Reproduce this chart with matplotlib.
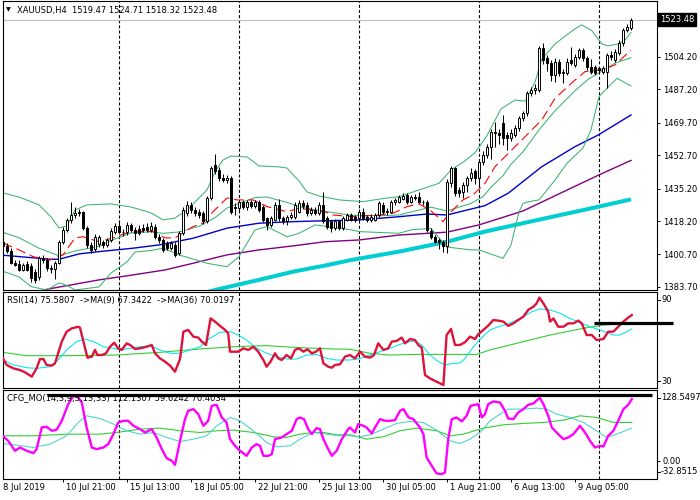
import matplotlib
matplotlib.use("Agg")
import matplotlib.pyplot as plt
import matplotlib.transforms as mtransforms

plt.rcParams['font.family'] = ['DejaVu Sans']
plt.rcParams['lines.scale_dashes'] = False

# ---------------- price data (H4 bars, index 0..158) ----------------
opens = [1409.0,1407.5,1405.0,1402.5,1396.2,1395.8,1392.7,1395.8,1394.5,1391.5,
         1389.0,1398.8,1398.0,1393.5,1393.0,1396.2,1407.5,1413.6,1418.8,1421.4,
         1422.3,1423.0,1414.5,1405.7,1403.5,1406.0,1407.5,1405.7,1408.4,1412.7,
         1415.7,1412.7,1412.5,1416.2,1413.6,1414.0,1414.8,1415.3,1413.6,1415.3,
         1410.1,1408.4,1406.6,1404.0,1405.8,1401.4,1411.9,1422.3,1426.7,1424.0,
         1423.0,1422.3,1418.0,1430.2,1447.6,1445.0,1441.0,1439.8,1441.0,1425.8,
         1425.0,1428.4,1425.5,1428.4,1426.0,1428.4,1425.8,1419.7,1416.2,1418.8,
         1426.7,1419.7,1418.0,1420.6,1420.6,1423.2,1427.6,1426.7,1422.3,1424.1,
         1422.3,1426.7,1419.7,1418.0,1414.5,1418.0,1414.5,1418.8,1421.4,1420.6,
         1419.7,1423.2,1420.6,1418.8,1418.8,1421.4,1426.7,1423.2,1423.2,1428.0,
         1428.4,1430.0,1431.9,1428.4,1431.0,1431.0,1428.4,1428.4,1413.2,1410.1,
         1408.4,1407.5,1404.9,1438.0,1445.9,1434.5,1433.7,1437.2,1440.6,1444.2,
         1440.7,1449.4,1452.9,1457.2,1465.1,1464.2,1469.5,1463.4,1461.6,1463.4,
         1466.8,1472.1,1474.7,1485.2,1486.9,1486.9,1508.7,1503.5,1500.9,1494.8,
         1501.7,1496.5,1495.6,1502.6,1500.0,1504.4,1507.9,1503.5,1499.1,1499.1,
         1498.2,1496.5,1496.5,1505.2,1502.6,1506.1,1511.3,1518.3,1519.47]
highs = [1410.5,1409.0,1406.5,1404.0,1398.0,1398.0,1396.5,1397.5,1396.0,1393.0,
         1400.0,1400.5,1399.0,1395.0,1397.5,1408.5,1415.0,1420.0,1428.4,1425.5,
         1424.5,1423.5,1415.5,1407.0,1411.5,1411.0,1408.5,1409.5,1414.5,1417.0,
         1419.0,1414.0,1417.5,1417.0,1415.0,1416.0,1416.5,1417.0,1417.5,1416.5,
         1411.5,1409.5,1408.0,1408.0,1407.0,1413.0,1425.5,1428.5,1428.0,1425.5,
         1424.5,1423.5,1431.5,1447.0,1453.4,1446.5,1443.0,1442.5,1442.0,1427.5,
         1429.5,1429.5,1429.5,1429.5,1429.5,1429.5,1426.5,1420.5,1421.0,1428.0,
         1430.0,1421.0,1421.5,1423.0,1428.0,1429.5,1429.0,1428.0,1425.5,1425.5,
         1428.0,1433.7,1421.0,1419.0,1419.5,1419.0,1421.0,1422.5,1422.5,1421.5,
         1424.5,1425.0,1421.5,1422.0,1422.5,1428.5,1428.0,1425.0,1429.0,1430.5,
         1432.0,1433.0,1433.0,1432.0,1432.5,1433.5,1429.5,1429.0,1414.5,1411.0,
         1409.5,1408.5,1440.0,1447.0,1446.5,1436.0,1438.5,1442.0,1446.0,1445.5,
         1450.5,1455.0,1458.5,1466.5,1470.0,1466.5,1474.0,1465.0,1466.5,1468.5,
         1473.5,1476.0,1486.5,1488.5,1490.0,1510.0,1511.3,1505.0,1502.5,1503.5,
         1503.0,1498.0,1503.5,1509.6,1505.5,1509.0,1509.0,1504.5,1503.0,1500.0,
         1499.0,1499.5,1506.5,1507.5,1508.5,1513.0,1519.5,1521.5,1524.71]
lows = [1406.0,1403.5,1401.5,1395.5,1394.5,1392.0,1392.0,1392.0,1386.5,1386.0,
        1387.5,1396.5,1392.0,1391.0,1388.0,1395.5,1406.0,1412.5,1417.0,1420.0,
        1421.0,1413.5,1404.0,1401.5,1402.5,1404.5,1404.0,1404.5,1407.0,1411.5,
        1411.5,1410.5,1411.0,1412.5,1408.5,1411.0,1412.5,1412.5,1412.5,1409.0,
        1406.5,1402.0,1403.0,1403.0,1399.5,1400.5,1411.0,1421.0,1422.5,1421.0,
        1420.0,1416.5,1417.0,1429.0,1443.0,1439.0,1438.5,1438.0,1422.0,1421.5,
        1423.5,1424.5,1424.0,1425.0,1425.0,1423.0,1417.5,1413.5,1415.0,1418.0,
        1418.5,1416.5,1416.0,1419.5,1419.5,1422.5,1424.5,1421.0,1421.5,1421.5,
        1421.5,1417.0,1414.0,1412.5,1413.5,1413.5,1413.5,1418.0,1418.0,1417.5,
        1418.5,1419.0,1417.5,1417.5,1418.0,1420.5,1422.0,1421.5,1422.5,1426.5,
        1427.5,1429.0,1427.0,1427.5,1429.5,1427.5,1426.5,1412.5,1409.0,1406.5,
        1403.5,1402.0,1401.4,1436.0,1431.5,1431.0,1430.5,1433.5,1439.0,1437.5,
        1436.0,1447.5,1451.5,1450.5,1457.0,1458.5,1458.0,1455.5,1460.0,1462.0,
        1465.5,1470.5,1473.5,1483.5,1485.0,1486.0,1500.5,1497.0,1491.5,1491.3,
        1494.0,1490.4,1494.5,1500.0,1499.0,1503.0,1502.0,1497.5,1495.5,1494.5,
        1496.0,1495.5,1487.8,1502.5,1501.5,1505.0,1510.0,1517.0,1518.32]
closes = [1407.5,1405.0,1402.5,1396.2,1395.3,1392.7,1395.3,1392.7,1388.3,1387.5,
          1398.8,1398.0,1393.5,1393.0,1396.5,1407.5,1413.6,1418.8,1421.4,1422.3,
          1423.0,1414.5,1405.7,1403.1,1410.1,1410.0,1405.5,1408.4,1413.2,1415.7,
          1412.7,1412.5,1416.2,1413.6,1411.9,1411.9,1413.5,1413.6,1415.7,1410.1,
          1408.4,1403.1,1404.0,1406.6,1400.5,1411.9,1424.1,1426.7,1424.0,1422.5,
          1421.5,1418.0,1430.2,1445.9,1444.2,1440.6,1439.8,1441.0,1423.2,1425.0,
          1428.4,1425.8,1428.0,1426.0,1428.4,1424.1,1418.8,1416.2,1419.7,1426.7,
          1419.7,1418.0,1420.6,1421.5,1426.7,1427.6,1426.0,1422.3,1424.1,1422.5,
          1426.7,1418.0,1415.3,1414.5,1418.0,1414.5,1419.7,1421.5,1418.8,1418.8,
          1423.2,1419.7,1418.8,1420.6,1421.4,1427.6,1423.2,1423.5,1428.4,1429.5,
          1431.0,1431.5,1428.4,1431.0,1430.5,1428.4,1428.2,1413.6,1410.1,1407.5,
          1407.5,1404.9,1438.9,1445.9,1432.8,1432.8,1437.2,1440.6,1443.2,1440.7,
          1449.4,1452.8,1457.2,1465.1,1464.2,1463.5,1461.6,1461.6,1464.2,1466.8,
          1472.1,1474.7,1485.2,1486.9,1487.8,1508.7,1502.6,1500.9,1494.8,1501.7,
          1495.6,1495.6,1501.7,1500.9,1504.4,1507.9,1503.5,1499.1,1496.5,1495.6,
          1497.4,1498.2,1505.2,1504.0,1507.0,1511.3,1518.3,1520.1,1523.48]

# ---------------- main-window indicators (bar index, price) ----------------
bb_up_x = [0,5,10,13,15,17,19,22,28,33,38,41,44,47,50,52,54,56,58,62,65,70,72,75,77,80,85,91,96,100,
           105,110,113,116,119,122,125.5,129,131.5,134,135.7,139,144,145.7,148.2,150.7,152.3,154.8,156.5,158]
bb_up_y = [1433.5,1430.8,1426.7,1420.4,1414.6,1415.7,1424.0,1426.7,1427.2,1425.6,1422.5,1418.8,1419.8,1424.0,
           1430.3,1434.5,1444.0,1450.2,1452.3,1451.8,1447.1,1446.6,1446.0,1439.2,1433.5,1431.4,1429.3,1428.4,
           1430.0,1431.0,1434.5,1438.0,1445.0,1449.0,1454.0,1463.0,1477.0,1481.6,1481.0,1491.0,1503.0,1511.0,
           1519.0,1521.0,1518.0,1511.0,1510.0,1511.0,1513.0,1517.0]
bb_mid_x = [0,5,10,15,19,25,28,33,38,41,45,50,54,57,60,64,67,72,75,80,88,95,100,104,108,112,118,121,123,
            126,128,131,135,139,144,147.3,150.7,154,158]
bb_mid_y = [1413.0,1409.5,1404.0,1400.0,1402.5,1405.0,1408.0,1412.0,1412.6,1411.8,1412.5,1415.5,1420.0,1425.0,
            1427.5,1430.5,1430.8,1428.0,1425.8,1423.7,1421.3,1421.0,1421.4,1423.5,1425.5,1423.5,1427.5,1431.0,
            1436.0,1442.0,1448.0,1454.5,1466.0,1476.0,1486.5,1492.5,1496.8,1501.0,1503.8]
bb_lo_x = [0,5,8,12,15,17,19,25,28,32,34,38,41,45,52,57,60,64,67,72,75,79,81,88,90,100,103,108,112,118,
           120,126,128,130,131,132.5,135,139,142,146,148,150,152,154.5,158]
bb_lo_y = [1392.6,1389.0,1383.9,1382.1,1385.8,1384.5,1382.1,1383.7,1391.0,1396.8,1402.0,1402.8,1404.0,1400.5,
           1396.1,1394.3,1399.6,1413.6,1415.3,1410.0,1411.8,1416.2,1415.7,1413.6,1412.7,1411.8,1413.6,1414.4,
           1404.6,1403.1,1403.1,1398.7,1405.7,1423.0,1427.5,1428.4,1429.3,1439.7,1448.5,1456.5,1466.0,1483.4,
           1487.8,1493.0,1489.0]
ma_red_x = [1,5,8.5,12.75,16,19,21,25,28.5,32,35,38.5,41.5,44,48.5,51,53.5,57,59.5,63.5,67,72,75,81.5,83.5,
            88.5,95,98.5,102,105,107.75,111,112.25,116,118.5,121.5,124,131.5,135.7,139,144,146.5,150.7,154,158]
ma_red_y = [1406.7,1403.1,1399.6,1397.8,1400.5,1409.4,1410.0,1407.4,1409.4,1412.0,1412.7,1412.7,1409.4,1409.4,
            1415.3,1417.2,1423.1,1430.3,1429.3,1429.3,1425.8,1423.1,1424.9,1423.1,1421.4,1420.5,1421.4,1422.3,
            1425.8,1427.2,1424.0,1417.9,1421.4,1429.3,1431.9,1438.0,1446.7,1462.4,1471.2,1482.5,1492.1,1496.5,
            1497.4,1500.0,1507.8]
ma_blue_x = [0,12.75,15,20,25,33.5,40,48.5,57,65,73.5,80,90,100,107,112,117,121.5,127.3,135.7,144,149.8,158]
ma_blue_y = [1400.5,1398.2,1398.2,1401.0,1402.2,1404.0,1405.7,1409.2,1414.5,1417.1,1417.9,1418.3,1418.8,1420.5,
             1421.9,1421.4,1424.0,1426.3,1432.8,1446.7,1457.2,1463.3,1473.8]
ma_purple_x = [5,12,25,33.5,41.5,48.5,57,65,73.5,81.5,90,100,112,120,131,150,158]
ma_purple_y = [1379.0,1382.5,1387.4,1390.0,1392.6,1396.1,1400.5,1403.1,1405.2,1407.4,1408.3,1410.9,1412.4,
               1416.2,1423.5,1442.4,1450.0]
ma_cyan_x = [48,54,65,73.5,81.5,88,100,112,121.5,131,150,158]
ma_cyan_y = [1378.5,1382.1,1387.4,1391.7,1394.9,1397.8,1402.2,1407.4,1412.7,1417.1,1425.8,1429.6]

# ---------------- RSI window ----------------
rsi_x = [0.9,1.9,3.6,5.25,6.5,8.2,9.4,10.25,11.1,11.9,13.2,14.0,14.8,15.7,16.9,18.2,19.8,20.25,21.1,22.1,
         23.2,24.0,24.6,25.7,26.75,27.75,28.8,29.8,30.7,31.9,32.75,34.0,35.25,36.9,38.2,39.0,40.25,41.5,42.75,44.0,
         45.25,46.1,47.3,48.6,49.8,50.7,51.75,52.9,54.0,55.25,56.25,57.3,57.75,59.8,61.1,62.3,63.6,64.8,66.1,66.9,
         67.9,69.0,69.8,70.7,71.9,73.0,74.0,75.0,76.1,77.1,78.2,79.25,80.25,81.1,82.3,83.2,84.0,85.25,86.5,87.75,
         89.0,90.25,91.5,92.75,93.75,94.8,96.1,97.3,98.2,99.4,100.7,101.5,102.75,104.0,104.8,105.7,106.5,107.75,109.0,110.25,
         111.1,111.9,113.0,114.0,115.25,116.5,117.75,119.0,119.8,121.1,122.3,123.6,124.8,126.1,127.3,128.6,129.8,131.1,132.3,133.6,
         134.4,135.1,136.1,137.3,137.75,138.6,139.8,141.1,142.3,143.6,144.8,145.7,146.9,148.2,149.4,151.1,152.3,153.6,154.8,156.1,
         157.3,158.2]
rsi_v = [49.0,44.4,42.3,41.2,39.8,37.1,42.3,48.1,48.1,44.4,44.0,45.4,51.7,59.0,65.2,67.3,68.3,67.7,59.0,49.0,
         49.6,53.8,50.6,50.6,51.7,55.8,58.3,54.8,53.8,57.9,56.9,54.4,54.8,55.8,56.9,51.7,48.5,46.5,44.0,40.2,
         48.1,65.2,66.3,62.1,61.5,59.0,56.9,73.5,71.5,68.8,66.9,64.2,52.7,52.7,54.8,53.8,55.8,52.7,47.5,43.3,
         46.5,51.7,48.5,47.5,50.6,48.5,53.8,54.8,52.7,54.2,51.7,52.7,54.8,45.4,43.3,42.7,44.4,44.8,49.6,50.6,
         48.5,52.7,49.6,49.0,50.6,57.9,53.8,54.8,59.0,59.4,61.5,57.9,60.6,60.0,56.9,55.2,38.1,36.0,34.4,32.9,
         31.9,63.1,66.9,56.9,56.9,58.6,62.1,60.6,63.5,66.3,69.0,72.5,72.1,71.5,68.8,70.4,72.5,74.6,78.8,80.8,
         82.9,86.5,82.9,77.7,71.5,73.5,68.3,68.3,70.4,70.4,72.1,70.4,63.1,63.1,60.0,60.6,65.2,65.2,68.3,71.5,
         74.0,75.6]
rsi_ma9_x = [0.9,3.6,6.9,9.4,12.75,14.8,16.9,19.4,21.5,23.6,26.1,28.6,30.25,32.75,35.25,37.75,40.25,42.75,45.25,47.75,
             50.25,52.75,55.25,57.75,59.8,61.9,64.4,66.9,69.4,71.9,74.4,76.9,79.4,81.9,84.4,87.75,90.25,92.75,95.25,97.75,
             100.25,102.75,104.0,105.7,107.75,109.8,111.5,113.6,115.25,116.5,118.6,120.7,122.75,124.8,126.9,128.6,131.1,133.2,135.25,137.75,
             140.25,142.75,145.25,147.75,150.25,153.6,155.25,158.2]
rsi_ma9_v = [47.5,44.4,42.7,42.3,43.3,47.5,53.8,59.0,60.6,59.0,55.8,54.8,53.8,54.8,55.8,56.3,53.8,51.7,51.7,53.8,
             55.8,61.1,64.8,65.2,63.1,60.0,54.8,51.7,49.6,48.1,48.1,50.6,51.0,48.5,47.5,47.5,48.5,50.6,52.7,54.8,
             57.3,59.0,59.4,56.9,50.6,46.5,44.4,45.4,45.6,48.5,55.8,61.5,66.3,68.3,69.8,71.5,74.6,77.7,79.4,78.8,
             76.7,73.5,70.8,68.3,66.3,63.1,63.1,66.9]
rsi_ma36_x = [0.9,6.9,16.9,29.4,40.25,50.25,58.6,66.9,75.25,83.6,87.75,92.75,97.75,104.4,112.75,119.4,122.75,
              129.4,137.75,146.1,151.1,158.2]
rsi_ma36_v = [52.3,50.2,50.2,50.6,52.3,54.4,55.8,56.5,55.2,54.4,54.2,51.7,50.6,51.0,51.0,51.0,53.8,57.9,63.1,
              67.3,69.4,70.4]

# ---------------- CFG_MO window ----------------
mo_x = [0.9,2.3,4.0,5.25,6.9,8.6,9.4,10.7,11.9,13.2,14.4,15.7,17.3,18.6,19.8,20.7,21.9,23.2,24.4,26.1,
        27.3,28.6,29.8,31.1,32.3,33.6,35.25,36.5,38.2,39.4,40.7,41.9,43.2,44.0,45.25,46.5,47.3,48.6,49.8,51.1,
        52.3,53.2,54.4,55.7,56.9,57.75,59.0,60.25,61.9,63.2,64.4,65.25,66.1,67.3,68.2,69.0,70.7,71.9,73.2,74.4,
        75.25,76.25,77.3,78.2,79.4,80.25,81.1,82.3,83.2,84.4,85.7,87.3,
        87.75,89.0,89.8,91.1,91.9,93.2,94.0,95.25,96.5,97.75,99.0,100.25,101.1,102.4,103.6,105.25,106.1,106.9,108.2,109.4,
        110.7,111.5,112.3,113.2,114.4,115.7,116.9,117.9,119.0,119.8,120.7,121.5,122.3,123.6,125.25,126.5,127.3,128.6,129.8,131.1,
        132.3,133.6,134.8,135.25,136.1,137.3,138.2,139.8,141.1,142.3,143.6,145.25,146.5,147.75,149.0,150.25,151.1,152.3,153.6,154.8,
        156.1,157.3,158.2]
mo_v = [45.5,36.4,18.3,24.3,18.3,14.1,21.3,60.6,61.8,54.6,56.4,72.7,102.9,118.0,115.0,105.9,60.6,24.3,21.3,24.3,
        30.4,48.5,69.7,72.7,72.7,63.6,57.6,51.5,57.6,42.5,21.3,5.0,0.1,-7.1,36.4,75.7,90.8,93.9,84.8,63.6,
        72.7,99.9,101.7,78.7,69.7,39.4,27.3,18.3,9.2,24.3,30.4,27.3,9.2,9.2,12.2,39.4,42.5,48.5,54.6,75.7,
        78.7,75.7,57.6,48.5,59.4,57.6,39.4,21.3,9.2,18.3,39.4,57.6,
        60.6,51.5,66.7,63.6,60.6,49.7,60.6,75.7,72.7,72.7,73.9,90.8,93.9,78.7,75.7,60.6,48.5,6.2,-8.9,-22.8,
        -24.0,-21.0,39.4,75.7,78.7,71.5,81.8,99.9,101.7,102.9,78.7,84.8,102.9,107.8,105.9,90.8,76.9,75.7,87.8,93.9,
        101.7,104.1,112.0,113.8,102.9,81.8,60.6,48.5,39.4,42.5,48.5,63.6,51.5,36.4,24.3,27.3,26.1,45.5,54.6,72.7,
        93.9,101.7,112.0]
mo_sig_x = [0.9,3.6,8.6,12.75,16.9,19.8,21.9,25.25,28.6,31.9,35.25,38.6,41.9,45.25,48.6,51.9,54.4,57.75,60.25,63.6,
            66.9,69.4,72.75,75.25,78.6,81.9,85.25,87.75,90.25,92.75,96.1,99.4,102.75,106.1,109.4,112.75,115.25,117.75,120.25,122.75,
            125.25,127.3,131.1,134.4,136.9,139.4,142.75,146.1,149.4,151.9,154.4,158.2]
mo_sig_v = [31.6,29.2,24.3,30.4,45.5,69.7,81.8,76.9,66.7,54.6,48.5,51.5,42.5,35.2,39.4,45.5,63.6,78.7,72.7,54.6,
            33.4,25.5,27.3,39.4,51.5,48.5,45.5,45.5,43.7,47.3,57.6,67.9,71.5,69.7,55.8,36.4,31.6,39.4,51.5,72.7,
            84.8,93.9,93.9,95.7,93.9,84.8,78.7,69.7,54.6,42.5,48.5,59.4]
mo_slow_x = [0.9,8.6,16.9,25.25,29.4,35.25,40.25,45.25,50.25,54.4,58.6,63.6,68.6,71.9,75.25,78.6,81.1,84.4,87.75,91.9,
             96.1,100.25,104.4,109.4,112.75,116.1,121.1,126.1,131.1,136.1,141.1,145.25,149.4,153.6,158.2]
mo_slow_v = [45.5,45.5,48.5,48.5,51.5,57.6,59.4,54.6,51.5,54.6,55.8,51.5,43.7,42.5,48.5,51.5,51.5,47.3,47.3,39.4,
             43.7,54.6,59.4,54.6,45.5,48.5,59.4,65.4,67.9,69.7,73.9,81.8,78.7,69.7,69.7]

# ---------------- axis text ----------------
price_ticks = [1383.70, 1400.70, 1418.20, 1435.20, 1452.70, 1469.70, 1487.20, 1504.20, 1521.70]
last_price = 1523.48
week_sep = [30, 60, 90, 120, 150]
date_bars = [0, 16, 32, 48, 64, 80, 96, 112, 128, 144]
date_labels = ['8 Jul 2019', '10 Jul 21:00', '15 Jul 13:00', '18 Jul 05:00', '22 Jul 21:00',
               '25 Jul 13:00', '30 Jul 05:00', '1 Aug 21:00', '6 Aug 13:00', '9 Aug 05:00']
title_text = 'XAUUSD,H4  1519.47 1524.71 1518.32 1523.48'
rsi_text = 'RSI(14) 75.5807  ->MA(9) 67.3422  ->MA(36) 70.0197'
mo_text = 'CFG_MO(14,3,9,3,13,33) 112.1307 59.6242 70.4034'
rsi_lim = (30, 90)
mo_lim = (-32.8515, 128.5497)
rsi_hline = 70.5
mo_hline = 119.5

# ---------------- figure ----------------
W, H = 700, 500
fig = plt.figure(figsize=(7, 5), dpi=100)


def box(x0, y0, x1, y1):
    return [x0 / W, 1 - y1 / H, (x1 - x0) / W, (y1 - y0) / H]


ax1 = fig.add_axes(box(3, 1, 657, 290))
ax2 = fig.add_axes(box(3, 292, 657, 388))
ax3 = fig.add_axes(box(3, 390, 657, 479))
XL = (1.0, 164.5)
FS = 6

for ax in (ax1, ax2, ax3):
    ax.set_xlim(*XL)
    for s in ax.spines.values():
        s.set_linewidth(0.8)
        s.set_color('black')
    ax.tick_params(axis='x', which='both', bottom=False, labelbottom=False)
    ax.yaxis.tick_right()
    ax.tick_params(axis='y', direction='out', length=2.2, width=0.7, labelsize=FS, pad=2, colors='black')
    for sep in week_sep:
        ax.axvline(sep, color='black', lw=0.8, ls=(0, (2.2, 1.5)), zorder=1)

# main window
ax1.set_ylim(1382.1, 1533.5)
ax1.set_yticks(price_ticks)
ax1.set_yticklabels(['%.2f' % v for v in price_ticks])
ax1.axhline(last_price, color='#c0c0c0', lw=0.8, zorder=1)

ax1.plot(ma_cyan_x, ma_cyan_y, color='#00CED1', lw=2.9, zorder=2, solid_capstyle='butt')
ax1.plot(ma_purple_x, ma_purple_y, color='#800080', lw=1.0, zorder=2)
ax1.plot(ma_blue_x, ma_blue_y, color='#0000CD', lw=1.0, zorder=2)
ax1.plot(bb_up_x, bb_up_y, color='#3CB371', lw=0.75, zorder=2)
ax1.plot(bb_mid_x, bb_mid_y, color='#3CB371', lw=0.75, zorder=2)
ax1.plot(bb_lo_x, bb_lo_y, color='#3CB371', lw=0.75, zorder=2)
ax1.plot(ma_red_x, ma_red_y, color='#FF0000', lw=0.8, ls=(0, (7, 3.5)), zorder=2)

idx = list(range(len(opens)))
ax1.vlines(idx, lows, highs, color='black', lw=0.75, zorder=4)
bottoms = [min(o, c) for o, c in zip(opens, closes)]
heights = [abs(c - o) for o, c in zip(opens, closes)]
fills = ['white' if c >= o else 'black' for o, c in zip(opens, closes)]
ax1.bar(idx, heights, bottom=bottoms, width=0.72, color=fills, edgecolor='black', linewidth=0.7, zorder=5)

fig.text(660 / W, 1 - 19.5 / H, '1523.48', color='white', fontsize=FS, va='center', ha='left',
         bbox=dict(facecolor='black', edgecolor='black', boxstyle='square,pad=0.25'), zorder=10)

fig.text(6 / W, 1 - 9.5 / H, '\u25BC', fontsize=4.5, va='center', ha='left')
fig.text(17 / W, 1 - 10 / H, title_text, fontsize=FS, va='center', ha='left')

# RSI window
ax2.set_ylim(*rsi_lim)
ax2.set_yticks([])
ax2.plot(rsi_ma36_x, rsi_ma36_v, color='#32CD32', lw=0.8, zorder=2)
ax2.plot(rsi_ma9_x, rsi_ma9_v, color='#00E5EE', lw=0.75, zorder=2)
ax2.plot(rsi_x, rsi_v, color='#DC143C', lw=1.7, zorder=3)
ax2.plot([148.75, 168.5], [rsi_hline, rsi_hline], color='black', lw=2.3, clip_on=False, zorder=6,
         solid_capstyle='butt')
fig.text(7 / W, 1 - 301 / H, rsi_text, fontsize=FS, va='center', ha='left', zorder=1)
for lab, ypx in (('90', 299.5), ('30', 381)):
    fig.text(661 / W, 1 - ypx / H, lab, fontsize=FS, va='center', ha='left')
    fig.add_artist(plt.Line2D([657 / W, 660 / W], [1 - ypx / H, 1 - ypx / H], color='black', lw=0.7))

# CFG_MO window
ax3.set_ylim(*mo_lim)
ax3.set_yticks([0])
ax3.set_yticklabels(['0.00'])
ax3.plot(mo_slow_x, mo_slow_v, color='#32CD32', lw=0.8, zorder=2)
ax3.plot(mo_sig_x, mo_sig_v, color='#48D1CC', lw=0.75, zorder=2)
ax3.plot(mo_x, mo_v, color='#FF00FF', lw=1.7, zorder=3)
ax3.plot([12.0, 163.3], [mo_hline, mo_hline], color='black', lw=2.3, clip_on=False, zorder=6,
         solid_capstyle='butt')
fig.text(7 / W, 1 - 398 / H, mo_text, fontsize=FS, va='center', ha='left', zorder=1)
for lab, ypx in (('128.5497', 397.5), ('-32.8515', 472)):
    fig.text(661 / W, 1 - ypx / H, lab, fontsize=FS, va='center', ha='left')
    fig.add_artist(plt.Line2D([657 / W, 660 / W], [1 - ypx / H, 1 - ypx / H], color='black', lw=0.7))

# date labels
ax3.set_xticks(date_bars[1:])
ax3.tick_params(axis='x', bottom=True, direction='out', length=2.2, width=0.7, labelbottom=False)
for b, lab in zip(date_bars, date_labels):
    if b < XL[0]:
        tr = ax3.get_xaxis_transform()
        xb = XL[0]
    else:
        tr = mtransforms.offset_copy(ax3.get_xaxis_transform(), fig=fig, x=2.2, y=0, units='points')
        xb = b
    ax3.text(xb, (479 - 488) / 89, lab, transform=tr, fontsize=FS, va='center', ha='left', clip_on=False)

fig.savefig('out.png', dpi=100)
